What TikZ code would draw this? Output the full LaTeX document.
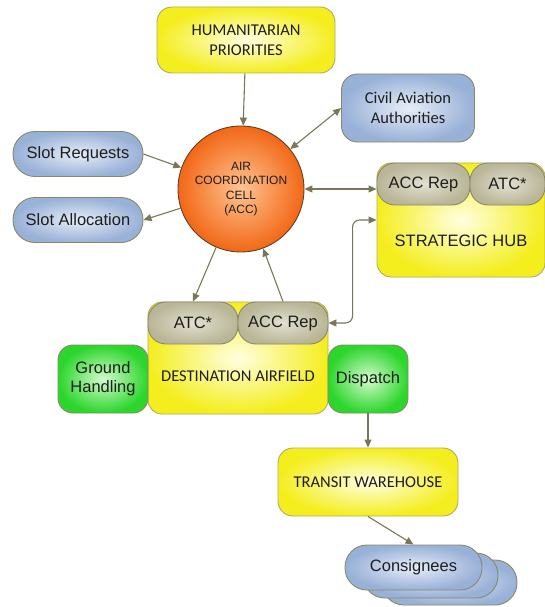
\documentclass[tikz,border=0pt]{standalone}
\usepackage{fontspec}
\setmainfont{Liberation Sans}
\newfontfamily\calfont{Carlito}
\usetikzlibrary{arrows.meta,calc}

\definecolor{yelin}{HTML}{FFFFE0}
\definecolor{yelout}{HTML}{F4EE1E}
\definecolor{yelline}{HTML}{B0AA66}
\definecolor{bluin}{HTML}{E6EDF8}
\definecolor{bluout}{HTML}{98B1D7}
\definecolor{grnin}{HTML}{D4FBCC}
\definecolor{grnout}{HTML}{2CD62C}
\definecolor{tabin}{HTML}{E2E0D0}
\definecolor{tabout}{HTML}{B9B597}
\definecolor{accin}{HTML}{FFC492}
\definecolor{accout}{HTML}{F26716}
\definecolor{accline}{HTML}{5E4028}
\definecolor{boxline}{HTML}{8A886A}
\definecolor{arr}{HTML}{7A7758}
\definecolor{txt}{HTML}{1E1E1E}

\begin{document}
\begin{tikzpicture}[x=1pt,y=-1pt,
  box/.style={draw=boxline, line width=0.9pt, inner sep=0pt, align=center,
    text=txt, font=\fontsize{16.5}{19}\selectfont},
  yellowbox/.style={box, draw=yelline, rounded corners=15pt, inner color=yelin, outer color=yelout},
  bluebox/.style={box, rounded corners=20pt, inner color=bluin, outer color=bluout},
  greenbox/.style={box, rounded corners=15pt, inner color=grnin, outer color=grnout},
  tabbox/.style={box, rounded corners=18pt, inner color=tabin, outer color=tabout},
  capsfont/.style={font=\calfont\fontsize{16.5}{20}\selectfont},
  tip/.tip={Triangle[length=8pt,width=7pt]},
  link/.style={draw=arr, line width=1.1pt, -tip},
  bothways/.style={draw=arr, line width=1.1pt, tip-tip}]

\useasboundingbox (0,0) rectangle (545,607);

% central coordination cell
\node[circle, draw=accline, line width=0.9pt, inner color=accin, outer color=accout,
  minimum size=126pt, inner sep=0pt, align=center, text=txt,
  font=\fontsize{12}{14.5}\selectfont] (acc) at (241,189)
  {AIR\\COORDINATION\\CELL\\(ACC)};

% inputs and outputs of the cell
\node[yellowbox, capsfont, minimum width=178pt, minimum height=66pt] (hum) at (246,40)
  {HUMANITARIAN\\PRIORITIES};
\node[bluebox, capsfont, rounded corners=16pt, minimum width=133pt, minimum height=68pt] (caa) at (408,108)
  {Civil Aviation\\Authorities};
\node[bluebox, minimum width=130pt, minimum height=45pt, rounded corners=22pt] (sreq) at (78,154)
  {Slot Requests};
\node[bluebox, minimum width=130pt, minimum height=45pt, rounded corners=22pt] (salloc) at (78,220)
  {Slot Allocation};

% strategic hub
\node[yellowbox, minimum width=168pt, minimum height=114pt, rounded corners=14pt] (hub) at (461,220) {};
\node[text=txt, inner sep=0pt, font=\fontsize{16.5}{19}\selectfont] (hubtxt) at (461,241) {STRATEGIC HUB};
\node[tabbox, minimum width=93pt, minimum height=42pt] (hubacc) at (423.5,184) {ACC Rep};
\node[tabbox, minimum width=75pt, minimum height=42pt] (hubatc) at (507.5,184) {ATC*};

% destination airfield
\node[yellowbox, minimum width=180pt, minimum height=112pt, rounded corners=14pt] (dest) at (238,358) {};
\node[capsfont, text=txt, inner sep=0pt] (desttxt) at (238,376) {DESTINATION AIRFIELD};
\node[tabbox, minimum width=90pt, minimum height=42pt] (destatc) at (193,323) {ATC*};
\node[tabbox, minimum width=90pt, minimum height=42pt] (destacc) at (283,323) {ACC Rep};
\node[greenbox, minimum width=90pt, minimum height=68pt] (gh) at (103,379) {Ground\\Handling};
\node[greenbox, minimum width=80pt, minimum height=68pt] (disp) at (368,379) {Dispatch};

% onward chain
\node[yellowbox, capsfont, minimum width=180pt, minimum height=68pt] (tw) at (368,482)
  {TRANSIT WAREHOUSE};
\node[bluebox, minimum width=135pt, minimum height=45pt, rounded corners=22pt] (cons3) at (449.5,582.5) {};
\node[bluebox, minimum width=135pt, minimum height=45pt, rounded corners=22pt] (cons2) at (430.5,575.5) {};
\node[bluebox, minimum width=137pt, minimum height=45pt, rounded corners=22pt] (cons1) at (413.5,567.5) {Consignees};

% connectors
\draw[link] (hum) -- (acc);
\draw[bothways] (caa.west) -- (acc);
\draw[link] (sreq.east) -- (acc);
\draw[link] (acc) -- (salloc.east);
\draw[bothways] (acc.east) -- (acc.east -| hubacc.west);
\draw[link] (acc) -- (destatc.north);
\draw[link] (destacc.north) -- (acc);
\draw[bothways, rounded corners=7pt] (destacc.east) -| ([xshift=-24pt]hub.west) -- (hub.west);
\draw[link] (disp.south) -- (tw.north);
\draw[link] (tw.south) -- (cons1.north);
\end{tikzpicture}
\end{document}
